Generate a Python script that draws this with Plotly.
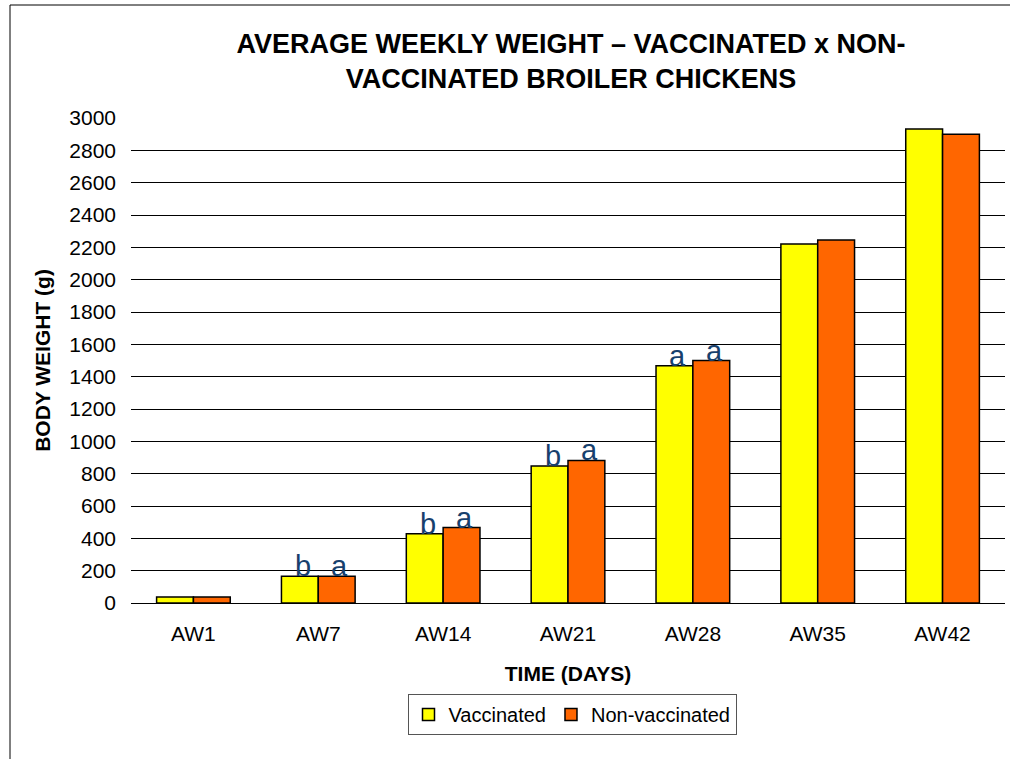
import plotly.graph_objects as go

categories = ["AW1", "AW7", "AW14", "AW21", "AW28", "AW35", "AW42"]
vaccinated = [37, 165, 428, 848, 1468, 2220, 2932]
non_vaccinated = [37, 165, 467, 882, 1500, 2246, 2900]
vacc_letters = ["", "b", "b", "b", "a", "", ""]
nonvacc_letters = ["", "a", "a", "a", "a", "", ""]
y_ticks = list(range(0, 3001, 200))

FONT = "Liberation Sans, Arial, sans-serif"
LETTER_COLOR = "#17406D"

fig = go.Figure()
fig.add_trace(go.Bar(
    x=categories, y=vaccinated, name="Vaccinated",
    marker=dict(color="#FFFF00", line=dict(color="black", width=1.5)),
))
fig.add_trace(go.Bar(
    x=categories, y=non_vaccinated, name="Non-vaccinated",
    marker=dict(color="#FF6600", line=dict(color="black", width=1.5)),
))

annotations = []
bar_half = 18.5
for cat, v, t in zip(categories, vaccinated, vacc_letters):
    if t:
        annotations.append(dict(x=cat, y=v, text=t, showarrow=False, xshift=-bar_half + 3,
                                yanchor="bottom", yshift=-8,
                                font=dict(family=FONT, size=29, color=LETTER_COLOR)))
for cat, v, t in zip(categories, non_vaccinated, nonvacc_letters):
    if t:
        annotations.append(dict(x=cat, y=v, text=t, showarrow=False, xshift=bar_half + 3,
                                yanchor="bottom", yshift=-8,
                                font=dict(family=FONT, size=29, color=LETTER_COLOR)))

fig.update_layout(
    width=1010, height=759,
    margin=dict(l=131, r=5, t=118, b=156),
    paper_bgcolor="white", plot_bgcolor="white",
    font=dict(family=FONT, size=21, color="black"),
    barmode="group", bargap=0.41, bargroupgap=0,
    title=dict(text="<b>AVERAGE WEEKLY WEIGHT – VACCINATED x NON-<br>VACCINATED BROILER CHICKENS</b>",
               x=(571 - 131) / 874, xref="paper", xanchor="center",
               y=1 - 53 / 759, yref="container", yanchor="middle",
               font=dict(family=FONT, size=27, color="black")),
    xaxis=dict(title=dict(text="<b>TIME (DAYS)</b>", standoff=22, font=dict(size=21)),
               showgrid=False, showline=False, ticks="", ticklabelstandoff=16,
               tickfont=dict(size=21)),
    yaxis=dict(title=dict(text="<b>BODY WEIGHT (g)</b>", standoff=12, font=dict(size=21)),
               range=[0, 3000], tickvals=y_ticks, showgrid=True, gridcolor="black",
               gridwidth=1, zeroline=True, zerolinecolor="black", zerolinewidth=1,
               showline=False, ticks="", ticklabelstandoff=14, tickfont=dict(size=21)),
    legend=dict(orientation="h", x=(572 - 131) / 874, xanchor="center",
                y=(603 - 694) / 485, yanchor="top",
                bordercolor="#555555", borderwidth=1, font=dict(size=20),
                itemwidth=30, traceorder="normal"),
    annotations=annotations,
    shapes=[dict(type="rect", xref="paper", yref="paper",
                 x0=(10 - 131) / 874, x1=1.2, y0=-0.5, y1=(603 - 5) / 485,
                 line=dict(color="black", width=1), fillcolor="rgba(0,0,0,0)", layer="below")],
)

fig.write_html("out.html", config={"displayModeBar": False},
               post_script="document.body.style.margin='0';document.body.style.overflow='hidden';")
